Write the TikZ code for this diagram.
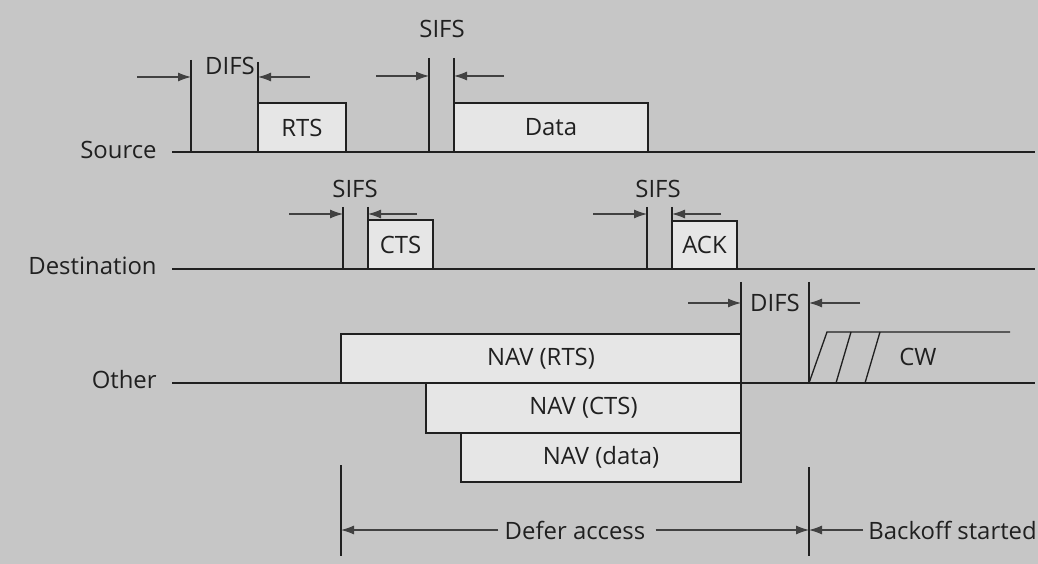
\documentclass[tikz,border=0pt]{standalone}
\usepackage{fontspec}
\setmainfont{Open Sans}
\usetikzlibrary{arrows.meta,fit}
\definecolor{bg}{RGB}{198,198,198}
\definecolor{boxfill}{RGB}{230,230,230}
\definecolor{ink}{RGB}{32,32,32}
\begin{document}
\begin{tikzpicture}[x=0.02cm,y=-0.02cm,
  font=\fontsize{13.6}{16}\selectfont,
  lab/.style={text=ink, inner sep=0pt},
  timeline/.style={draw=ink, line width=0.75pt},
  tick/.style={draw=ink, line width=0.75pt},
  box/.style={draw=ink, fill=boxfill, line width=0.75pt, inner sep=0pt},
  dim/.style={draw=ink!85, line width=0.6pt, -{Latex[length=2.6mm,width=1.8mm]}}]
\fill[bg] (0,0) rectangle (1038,564);
\useasboundingbox (0,0) rectangle (1038,564);

% ---------- Source ----------
\node[lab, anchor=east] (src) at (157,150) {Source};
\coordinate (s0) at (172,152); \coordinate (s1) at (1035,152);
\draw[timeline] (s0) -- (s1);
\coordinate (d1t) at (191,60);  \coordinate (d1b) at (191,152);
\coordinate (d2t) at (258,62);  \coordinate (d2b) at (258,152);
\draw[tick] (d1t) -- (d1b);
\node[box, fit={(258,103)(346,152)}] (rts) {};
\node[lab] (rtsl) at (rts.center) {RTS};
\draw[tick] (d2t) -- (d2b);
\node[lab] (difs1) at (230,66) {DIFS};
\coordinate (a1) at (137,77); \coordinate (a2) at (310,77);
\draw[dim] (a1) -- (d1t |- a1);
\draw[dim] (a2) -- (d2t |- a2);

\coordinate (e1t) at (429,58);  \coordinate (e1b) at (429,152);
\coordinate (e2t) at (454,58);  \coordinate (e2b) at (454,152);
\node[box, fit={(454,103)(648,152)}] (data) {};
\node[lab] (datal) at (data.center) {Data};
\draw[tick] (e1t) -- (e1b);
\draw[tick] (e2t) -- (e2b);
\node[lab] (sifs1) at (442,29) {SIFS};
\coordinate (a3) at (376,76); \coordinate (a4) at (504,76);
\draw[dim] (a3) -- (e1t |- a3);
\draw[dim] (a4) -- (e2t |- a4);

% ---------- Destination ----------
\node[lab, anchor=east] (dst) at (157,266) {Destination};
\coordinate (t0) at (172,269); \coordinate (t1) at (1035,269);
\draw[timeline] (t0) -- (t1);
\coordinate (f1t) at (343,207); \coordinate (f1b) at (343,269);
\coordinate (f2t) at (368,207); \coordinate (f2b) at (368,269);
\node[box, fit={(368,220)(433,269)}] (cts) {};
\node[lab] (ctsl) at (cts.center) {CTS};
\draw[tick] (f1t) -- (f1b);
\draw[tick] (f2t) -- (f2b);
\node[lab] (sifs2) at (355,189) {SIFS};
\coordinate (a5) at (289,214); \coordinate (a6) at (417,214);
\draw[dim] (a5) -- (f1t |- a5);
\draw[dim] (a6) -- (f2t |- a6);

\coordinate (g1t) at (647,207); \coordinate (g1b) at (647,269);
\coordinate (g2t) at (672,207); \coordinate (g2b) at (672,269);
\node[box, fit={(672,221)(737,269)}] (ack) {};
\node[lab] (ackl) at (ack.center) {ACK};
\draw[tick] (g1t) -- (g1b);
\draw[tick] (g2t) -- (g2b);
\node[lab] (sifs3) at (658,189) {SIFS};
\coordinate (a7) at (593,214); \coordinate (a8) at (721,214);
\draw[dim] (a7) -- (g1t |- a7);
\draw[dim] (a8) -- (g2t |- a8);

% ---------- Other ----------
\node[lab, anchor=east] (oth) at (157,380) {Other};
\coordinate (o0) at (172,383); \coordinate (o1) at (1035,383);
\node[box, fit={(341,334)(741,383)}] (navr) {};
\node[lab] (navrl) at (navr.center) {NAV (RTS)};
\node[box, fit={(426,383)(741,433)}] (navc) {};
\node[lab] (navcl) at (navc.center) {NAV (CTS)};
\node[box, fit={(461,433)(741,482)}] (navd) {};
\node[lab] (navdl) at (navd.center) {NAV (data)};
\draw[timeline] (o0) -- (o1);
\coordinate (h1t) at (741,282); \coordinate (h1b) at (741,482);
\coordinate (h2t) at (809,282); \coordinate (h2b) at (809,383);
\draw[tick] (h1t) -- (h1b);
\draw[tick] (h2t) -- (h2b);
\node[lab] (difs2) at (775,303) {DIFS};
\coordinate (a9) at (688,303); \coordinate (a10) at (860,303);
\draw[dim] (a9) -- (h1t |- a9);
\draw[dim] (a10) -- (h2t |- a10);

% contention window
\coordinate (c0) at (827,332); \coordinate (c1) at (1010,332);
\draw[tick] (h2b) -- (c0) -- (c1);
\coordinate (k1b) at (836,383); \coordinate (k1t) at (851,332);
\coordinate (k2b) at (865,383); \coordinate (k2t) at (880,332);
\draw[tick] (k1b) -- (k1t);
\draw[tick] (k2b) -- (k2t);
\node[lab] (cw) at (918,357) {CW};

% ---------- bottom ----------
\coordinate (m1t) at (341,465); \coordinate (m1b) at (341,556);
\coordinate (m2t) at (809,467); \coordinate (m2b) at (809,556);
\draw[tick] (m1t) -- (m1b);
\draw[tick] (m2t) -- (m2b);
\node[lab] (defer) at (575,530) {Defer access};
\node[lab, anchor=west] (back) at (868,530) {Backoff started};
\draw[dim] (defer.west) ++(-6,0) -- (m1t |- defer);
\draw[dim] (defer.east) ++(10,0) -- (m2t |- defer);
\draw[dim] (back.west) ++(-5,0) -- (m2t |- back);
\end{tikzpicture}
\end{document}
